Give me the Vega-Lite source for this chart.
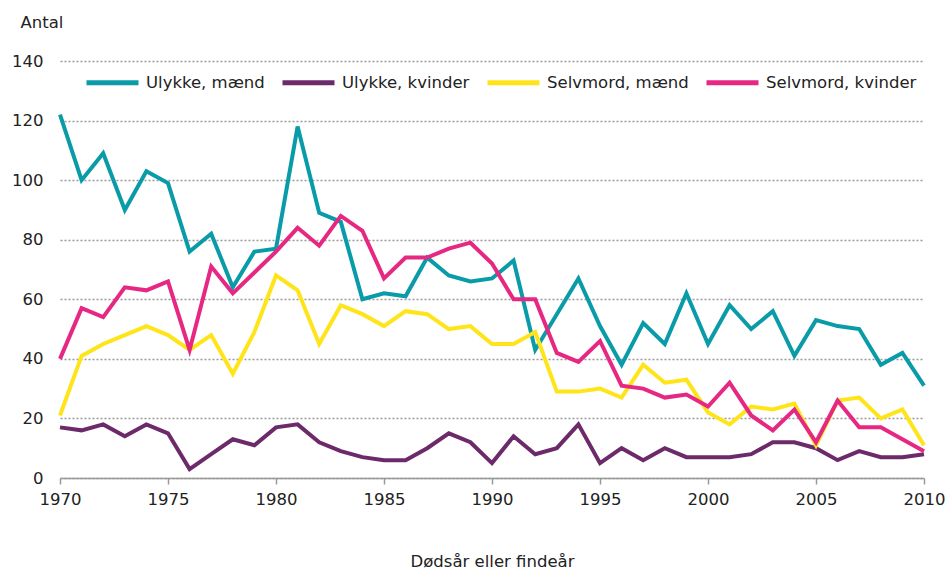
{
  "$schema": "https://vega.github.io/schema/vega-lite/v6.json",
  "width": 864,
  "height": 417,
  "autosize": "none",
  "padding": {"left": 60, "top": 61, "right": 25, "bottom": 92},
  "background": "white",
  "config": {"view": {"stroke": null}, "font": "DejaVu Sans"},
  "data": {"values": [
    {"year":1970,"um":122,"uk":17,"sm":21,"sk":40},
    {"year":1971,"um":100,"uk":16,"sm":41,"sk":57},
    {"year":1972,"um":109,"uk":18,"sm":45,"sk":54},
    {"year":1973,"um":90,"uk":14,"sm":48,"sk":64},
    {"year":1974,"um":103,"uk":18,"sm":51,"sk":63},
    {"year":1975,"um":99,"uk":15,"sm":48,"sk":66},
    {"year":1976,"um":76,"uk":3,"sm":43,"sk":43},
    {"year":1977,"um":82,"uk":8,"sm":48,"sk":71},
    {"year":1978,"um":64,"uk":13,"sm":35,"sk":62},
    {"year":1979,"um":76,"uk":11,"sm":49,"sk":69},
    {"year":1980,"um":77,"uk":17,"sm":68,"sk":76},
    {"year":1981,"um":118,"uk":18,"sm":63,"sk":84},
    {"year":1982,"um":89,"uk":12,"sm":45,"sk":78},
    {"year":1983,"um":86,"uk":9,"sm":58,"sk":88},
    {"year":1984,"um":60,"uk":7,"sm":55,"sk":83},
    {"year":1985,"um":62,"uk":6,"sm":51,"sk":67},
    {"year":1986,"um":61,"uk":6,"sm":56,"sk":74},
    {"year":1987,"um":74,"uk":10,"sm":55,"sk":74},
    {"year":1988,"um":68,"uk":15,"sm":50,"sk":77},
    {"year":1989,"um":66,"uk":12,"sm":51,"sk":79},
    {"year":1990,"um":67,"uk":5,"sm":45,"sk":72},
    {"year":1991,"um":73,"uk":14,"sm":45,"sk":60},
    {"year":1992,"um":43,"uk":8,"sm":49,"sk":60},
    {"year":1993,"um":55,"uk":10,"sm":29,"sk":42},
    {"year":1994,"um":67,"uk":18,"sm":29,"sk":39},
    {"year":1995,"um":51,"uk":5,"sm":30,"sk":46},
    {"year":1996,"um":38,"uk":10,"sm":27,"sk":31},
    {"year":1997,"um":52,"uk":6,"sm":38,"sk":30},
    {"year":1998,"um":45,"uk":10,"sm":32,"sk":27},
    {"year":1999,"um":62,"uk":7,"sm":33,"sk":28},
    {"year":2000,"um":45,"uk":7,"sm":22,"sk":24},
    {"year":2001,"um":58,"uk":7,"sm":18,"sk":32},
    {"year":2002,"um":50,"uk":8,"sm":24,"sk":21},
    {"year":2003,"um":56,"uk":12,"sm":23,"sk":16},
    {"year":2004,"um":41,"uk":12,"sm":25,"sk":23},
    {"year":2005,"um":53,"uk":10,"sm":11,"sk":12},
    {"year":2006,"um":51,"uk":6,"sm":26,"sk":26},
    {"year":2007,"um":50,"uk":9,"sm":27,"sk":17},
    {"year":2008,"um":38,"uk":7,"sm":20,"sk":17},
    {"year":2009,"um":42,"uk":7,"sm":23,"sk":13},
    {"year":2010,"um":31,"uk":8,"sm":11,"sk":9}
  ]},
  "transform": [
    {"fold": ["um","uk","sm","sk"], "as": ["key","value"]},
    {"lookup": "key", "from": {"data": {"values": [
      {"key":"um","serie":"Ulykke, mænd","ord":0},
      {"key":"uk","serie":"Ulykke, kvinder","ord":1},
      {"key":"sm","serie":"Selvmord, mænd","ord":2},
      {"key":"sk","serie":"Selvmord, kvinder","ord":3}
    ]}, "key": "key", "fields": ["serie","ord"]}}
  ],
  "mark": {"type": "line", "strokeWidth": 4, "strokeJoin": "miter", "strokeCap": "butt"},
  "encoding": {
    "x": {"field": "year", "type": "quantitative",
      "scale": {"domain": [1970, 2010], "nice": false, "zero": false},
      "axis": {"values": [1970,1975,1980,1985,1990,1995,2000,2005,2010], "format": "d",
        "grid": false, "domainColor": "#999999", "domainWidth": 1.5, "tickColor": "#999999", "tickWidth": 1.5, "tickSize": 6,
        "labelFlush": false, "labelOverlap": false, "labelBound": false,
        "labelFontSize": 16.5, "labelColor": "#222222", "labelPadding": 7, "labelFont": "DejaVu Sans",
        "title": "Dødsår eller findeår", "titleFontSize": 16.5, "titleFontWeight": "normal", "titleColor": "#222222",
        "titlePadding": 46, "titleFont": "DejaVu Sans"}},
    "y": {"field": "value", "type": "quantitative",
      "scale": {"domain": [0, 140], "nice": false},
      "axis": {"values": [0,20,40,60,80,100,120,140], "grid": true, "gridDash": [2,2], "gridColor": "#999999", "gridWidth": 1.5,
        "domain": false, "ticks": false, "labelFontSize": 16.5, "labelColor": "#222222", "labelPadding": 17, "labelFont": "DejaVu Sans",
        "title": "Antal", "titleAngle": 0, "titleAlign": "left", "titleBaseline": "middle", "titleX": -40, "titleY": -39,
        "titleFontSize": 16.5, "titleFontWeight": "normal", "titleColor": "#222222", "titleFont": "DejaVu Sans"}},
    "color": {"field": "serie", "type": "nominal",
      "scale": {"domain": ["Ulykke, mænd","Ulykke, kvinder","Selvmord, mænd","Selvmord, kvinder"],
        "range": ["#0A9BA8","#6C2A6A","#FFE419","#E62882"]},
      "legend": {"orient": "none", "legendX": 24, "legendY": -7, "direction": "horizontal", "title": null,
        "symbolType": "stroke", "symbolSize": 2704, "symbolStrokeWidth": 5, "labelFontSize": 16.5, "labelColor": "#222222",
        "labelFont": "DejaVu Sans", "labelOffset": 5, "columnPadding": 7, "symbolOffset": 0}},
    "order": {"field": "year", "type": "quantitative"}
  }
}
